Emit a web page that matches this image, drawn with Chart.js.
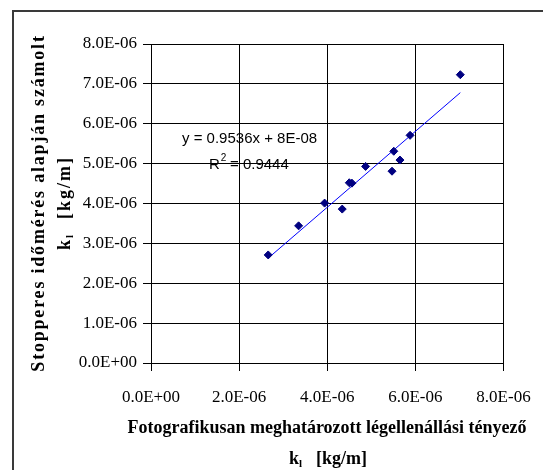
<!DOCTYPE html>
<html>
<head>
<meta charset="utf-8">
<script src="https://cdn.jsdelivr.net/npm/chart.js@4.4.1/dist/chart.umd.min.js"></script>
<style>
html,body{margin:0;padding:0;background:#fff;}
#wrap{width:543px;height:470px;position:relative;}
</style>
</head>
<body>
<div id="wrap"><canvas id="c" width="543" height="470"></canvas></div>
<script>
// Measured points (x: photographic k_l, y: stopwatch-based k_l), kg/m
const photoK = [2.66e-6, 3.35e-6, 3.94e-6, 4.34e-6, 4.50e-6, 4.56e-6, 4.87e-6, 5.47e-6, 5.51e-6, 5.65e-6, 5.88e-6, 7.02e-6];
const stopK  = [2.71e-6, 3.44e-6, 4.01e-6, 3.86e-6, 4.52e-6, 4.51e-6, 4.93e-6, 4.81e-6, 5.31e-6, 5.09e-6, 5.71e-6, 7.23e-6];
// Trendline endpoints
const trendX = [2.66e-6, 7.02e-6];
const trendY = [2.63e-6, 6.78e-6];
// Axis ticks
const yTickValues = [0, 1e-6, 2e-6, 3e-6, 4e-6, 5e-6, 6e-6, 7e-6, 8e-6];
const xTickValues = [0, 2e-6, 4e-6, 6e-6, 8e-6];
const eqText = "y = 0.9536x + 8E-08";
const r2Text = "= 0.9444";
const yTitle1 = "Stopperes időmérés alapján számolt";
const xTitle1 = "Fotografikusan meghatározott légellenállási tényező";
const unitText = "[kg/m]";

function fmtExp(v){
  if (Math.abs(v) < 1e-12) return "0.0E+00";
  const e = Math.floor(Math.log10(Math.abs(v)) + 1e-9);
  const m = v / Math.pow(10, e);
  const s = e < 0 ? "-" : "+";
  const ae = Math.abs(e);
  return m.toFixed(1) + "E" + s + (ae < 10 ? "0" + ae : ae);
}

const pts = photoK.map((x, i) => ({x: x, y: stopK[i]}));
const trend = trendX.map((x, i) => ({x: x, y: trendY[i]}));

function drawK(ctx, x, y, font, subFont){
  ctx.font = font;
  const w1 = ctx.measureText("k").width;
  ctx.fillText("k", x, y);
  ctx.font = subFont;
  ctx.fillText("l", x + w1, y + 3);
  return w1 + ctx.measureText("l").width;
}

const textPlugin = {
  id: 'texts',
  beforeDraw(chart){
    const ctx = chart.ctx;
    ctx.save();
    ctx.fillStyle = '#fff';
    ctx.fillRect(0, 0, chart.width, chart.height);
    ctx.strokeStyle = '#3a3a3a';
    ctx.lineWidth = 2;
    ctx.beginPath();
    ctx.moveTo(13, 475);
    ctx.lineTo(13, 11);
    ctx.lineTo(548, 11);
    ctx.stroke();
    ctx.restore();
  },
  afterDraw(chart){
    const ctx = chart.ctx;
    ctx.save();
    ctx.fillStyle = '#000';
    ctx.textBaseline = 'alphabetic';
    // regression equation
    ctx.font = '15px "Liberation Sans", Arial, sans-serif';
    ctx.textAlign = 'left';
    ctx.fillText(eqText, 182, 143);
    ctx.fillText("R", 209, 169);
    const wR = ctx.measureText("R").width;
    ctx.font = '10px "Liberation Sans", Arial, sans-serif';
    ctx.fillText("2", 209 + wR + 1, 161);
    ctx.font = '15px "Liberation Sans", Arial, sans-serif';
    ctx.fillText(" " + r2Text, 209 + wR + 6, 169);

    // x title
    ctx.font = 'bold 18px "Liberation Serif", "Times New Roman", serif';
    ctx.textAlign = 'center';
    ctx.fillText(xTitle1, 327, 433);
    ctx.textAlign = 'left';
    const x0 = 289;
    const wk = drawK(ctx, x0, 464, 'bold 18px "Liberation Serif", serif', 'bold 11px "Liberation Serif", serif');
    ctx.font = 'bold 18px "Liberation Serif", serif';
    ctx.fillText(unitText, x0 + wk + 14, 464);

    // y title (rotated)
    ctx.save();
    ctx.translate(44, 203);
    ctx.rotate(-Math.PI / 2);
    ctx.font = 'bold 18px "Liberation Serif", "Times New Roman", serif';
    ctx.letterSpacing = '1.8px';
    ctx.textAlign = 'center';
    ctx.fillText(yTitle1, 0, 0);
    ctx.restore();

    ctx.save();
    ctx.translate(70, 250);
    ctx.rotate(-Math.PI / 2);
    ctx.textAlign = 'left';
    ctx.letterSpacing = '2px';
    const wk2 = drawK(ctx, 0, 0, 'bold 18px "Liberation Serif", serif', 'bold 11px "Liberation Serif", serif');
    ctx.font = 'bold 18px "Liberation Serif", serif';
    ctx.fillText(unitText, wk2 + 14, 0);
    ctx.restore();

    ctx.restore();
  }
};

new Chart(document.getElementById('c'), {
  type: 'scatter',
  data: {
    datasets: [
      {
        label: 'mért',
        data: pts,
        pointStyle: 'rectRot',
        pointRadius: 4,
        pointHoverRadius: 4,
        backgroundColor: '#000080',
        borderColor: '#000080',
        borderWidth: 1,
        showLine: false,
        order: 1
      },
      {
        label: 'trend',
        data: trend,
        showLine: true,
        borderColor: '#0000ff',
        borderWidth: 1,
        pointRadius: 0,
        fill: false,
        order: 2
      }
    ]
  },
  options: {
    responsive: false,
    animation: false,
    events: [],
    layout: { padding: { left: 0, right: 39.5, top: 44, bottom: 0 } },
    plugins: { legend: { display: false }, tooltip: { enabled: false } },
    scales: {
      x: {
        type: 'linear',
        min: 0, max: 8e-6,
        afterBuildTicks(scale){ scale.ticks = xTickValues.map(v => ({value: v})); },
        afterFit(scale){ scale.height = 107; scale.paddingRight = 30; scale.paddingLeft = 0; },
        grid: { color: '#000', lineWidth: 1, tickLength: 8, drawTicks: true, tickColor: '#000' },
        border: { color: '#000', width: 1 },
        ticks: {
          color: '#000',
          font: { family: '"Liberation Serif", "Times New Roman", serif', size: 17 },
          padding: 16,
          maxRotation: 0,
          autoSkip: false,
          callback: (v) => fmtExp(v)
        }
      },
      y: {
        type: 'linear',
        min: 0, max: 8e-6,
        afterBuildTicks(scale){ scale.ticks = yTickValues.map(v => ({value: v})); },
        afterFit(scale){ scale.width = 151; scale.paddingTop = 0; scale.paddingBottom = 0; },
        grid: { color: '#000', lineWidth: 1, tickLength: 8, drawTicks: true, tickColor: '#000' },
        border: { color: '#000', width: 1 },
        ticks: {
          color: '#000',
          font: { family: '"Liberation Serif", "Times New Roman", serif', size: 17 },
          padding: 6,
          autoSkip: false,
          callback: (v) => fmtExp(v)
        }
      }
    }
  },
  plugins: [textPlugin]
});
</script>
</body>
</html>
